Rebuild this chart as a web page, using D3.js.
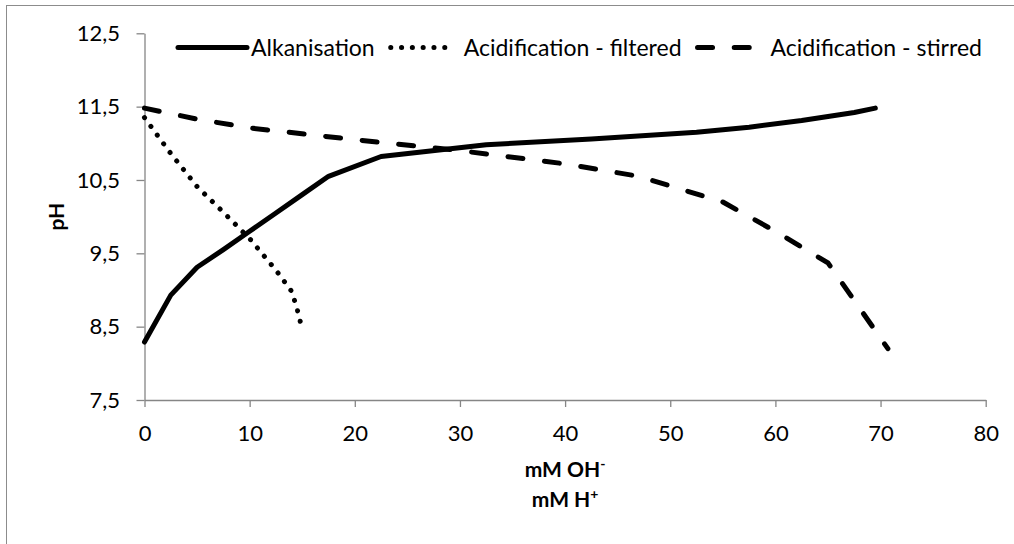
<!DOCTYPE html>
<html>
<head>
<meta charset="utf-8">
<script src="https://cdn.jsdelivr.net/npm/d3@7"></script>
<style>
  html, body { margin: 0; padding: 0; background: #fff; }
  svg { display: block; font-family: Lato, "Open Sans", sans-serif; }
</style>
</head>
<body>
<div id="chart"></div>
<script>
// values
const xTicks = [0, 10, 20, 30, 40, 50, 60, 70, 80];
const yTicks = [7.5, 8.5, 9.5, 10.5, 11.5, 12.5];

const seriesNames = ["Alkanisation", "Acidification - filtered", "Acidification - stirred"];

const alkX = [0, 2.5, 5, 7.5, 10, 12.5, 15, 17.5, 22.5, 32.5, 42.5, 52.5, 57.5, 62.5, 67.5, 69.5];
const alkY = [8.29, 8.93, 9.31, 9.55, 9.80, 10.05, 10.30, 10.55, 10.82, 10.98, 11.06, 11.15, 11.22, 11.31, 11.42, 11.48];

const filtX = [0, 2.5, 5, 7.5, 10, 12.5, 14, 14.5, 14.9];
const filtY = [11.35, 10.86, 10.41, 10.06, 9.70, 9.27, 8.98, 8.75, 8.52];

const stirX = [0, 5, 10, 20, 30, 40, 47, 55, 60, 65, 70.7];
const stirY = [11.48, 11.33, 11.21, 11.05, 10.90, 10.72, 10.55, 10.20, 9.80, 9.37, 8.20];

const width = 1014, height = 544;
const margin = {left: 144.5, right: width - 985.7, top: 33.3, bottom: height - 400};

const svg = d3.select("#chart").append("svg")
    .attr("width", width)
    .attr("height", height);

// chart area border (runs off the right and bottom edge)
svg.append("rect")
    .attr("x", 6.5).attr("y", 5.5)
    .attr("width", 1030).attr("height", 560)
    .attr("fill", "none")
    .attr("stroke", "#8c8c8c")
    .attr("stroke-width", 1);

const x = d3.scaleLinear().domain([0, 80]).range([margin.left, width - margin.right]);
const y = d3.scaleLinear().domain([7.5, 12.5]).range([height - margin.bottom, margin.top]);

const fmt = v => d3.format(".1f")(v).replace(".", ",");

const yAxis = svg.append("g")
    .attr("transform", `translate(${margin.left},0)`)
    .call(d3.axisLeft(y).tickValues(yTicks).tickFormat(fmt).tickSize(8).tickPadding(16.5).tickSizeOuter(0));

const xAxis = svg.append("g")
    .attr("transform", `translate(0,${height - margin.bottom})`)
    .call(d3.axisBottom(x).tickValues(xTicks).tickSize(7).tickPadding(18).tickSizeOuter(0));

[xAxis, yAxis].forEach(ax => {
    ax.select(".domain").attr("stroke", "#868686").attr("stroke-width", 1.3);
    ax.selectAll(".tick line").attr("stroke", "#868686").attr("stroke-width", 1.3);
    ax.selectAll("text")
        .attr("fill", "#000")
        .style("font-family", "Lato, 'Open Sans', sans-serif")
        .style("font-size", "22px");
});

// series styles
const styles = [
    {width: 5, dash: null, cap: "round", sample: 69},
    {width: 5, dash: "0.1 10.7", cap: "round", sample: 58},
    {width: 5, dash: "15 21.7", cap: "round", sample: 58}
];

const series = [
    alkX.map((v, i) => [v, alkY[i]]),
    filtX.map((v, i) => [v, filtY[i]]),
    stirX.map((v, i) => [v, stirY[i]])
];

const line = d3.line().x(d => x(d[0])).y(d => y(d[1]));

svg.append("g")
    .selectAll("path")
    .data(series)
    .join("path")
    .attr("d", line)
    .attr("fill", "none")
    .attr("stroke", "#000")
    .attr("stroke-width", (d, i) => styles[i].width)
    .attr("stroke-linecap", (d, i) => styles[i].cap)
    .attr("stroke-linejoin", "round")
    .attr("stroke-dasharray", (d, i) => styles[i].dash);

// legend along the top
const legend = svg.append("g").attr("class", "legend");
const legendY = 47.5;
let lx = 178;
seriesNames.forEach((name, i) => {
    const st = styles[i];
    legend.append("line")
        .attr("x1", lx).attr("x2", lx + st.sample)
        .attr("y1", legendY).attr("y2", legendY)
        .attr("stroke", "#000")
        .attr("stroke-width", st.width)
        .attr("stroke-linecap", st.cap)
        .attr("stroke-dasharray", st.dash);
    const t = legend.append("text")
        .attr("x", lx + 73)
        .attr("y", legendY)
        .attr("dy", "0.36em")
        .style("font-size", "23px")
        .text(name);
    lx = lx + 73 + t.node().getComputedTextLength() + 16;
});

// axis titles
svg.append("text")
    .attr("transform", `translate(57,${(y.range()[0] + y.range()[1]) / 2}) rotate(-90)`)
    .attr("text-anchor", "middle")
    .attr("dy", "0.35em")
    .style("font-size", "21px")
    .style("font-weight", "bold")
    .text("pH");

const xMid = (x.range()[0] + x.range()[1]) / 2;
const t1 = svg.append("text")
    .attr("x", xMid).attr("y", 477)
    .attr("text-anchor", "middle")
    .style("font-size", "21px")
    .style("font-weight", "bold");
t1.append("tspan").text("mM OH");
t1.append("tspan").attr("dy", -8).style("font-size", "14px").text("-");

const t2 = svg.append("text")
    .attr("x", xMid).attr("y", 507)
    .attr("text-anchor", "middle")
    .style("font-size", "21px")
    .style("font-weight", "bold");
t2.append("tspan").text("mM H");
t2.append("tspan").attr("dy", -8).style("font-size", "14px").text("+");
</script>
</body>
</html>
